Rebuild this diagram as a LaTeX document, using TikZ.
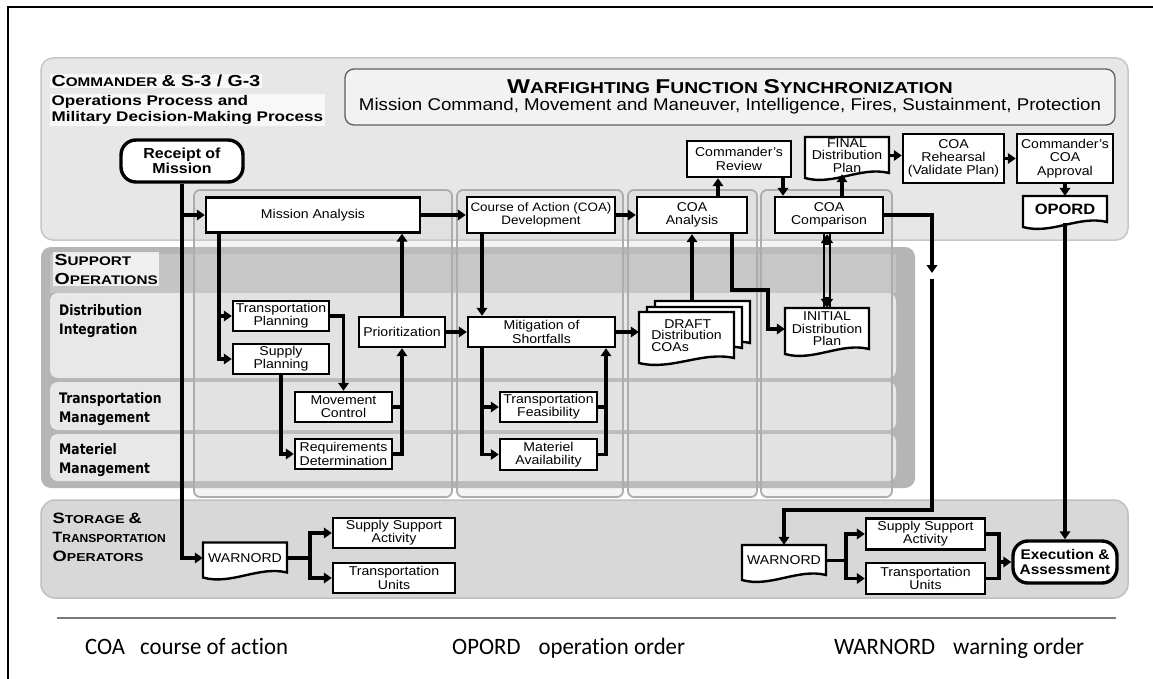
\documentclass[tikz,border=0pt]{standalone}
\usepackage{fontspec}
\usepackage{graphicx}
\setmainfont[FakeStretch=1.1]{Liberation Sans}
\newfontfamily\headfont[FakeStretch=1.22]{Liberation Sans}
\newfontfamily\rowfont[FakeStretch=0.85]{DejaVu Sans}
\newfontfamily\footfont[Ligatures=NoCommon,FakeStretch=0.97]{Carlito}
\usetikzlibrary{arrows.meta,calc}

\definecolor{topFill}{HTML}{E7E7E7}
\definecolor{topEdge}{HTML}{C6C6C6}
\definecolor{wfFill}{HTML}{F2F2F2}
\definecolor{wfEdge}{HTML}{5E5E5E}
\definecolor{supFill}{HTML}{B5B5B5}
\definecolor{supHead}{HTML}{C4C4C4}
\definecolor{rowFill}{HTML}{E8E8E8}
\definecolor{colEdge}{HTML}{ADADAD}
\definecolor{colFill}{HTML}{D2D2D2}
\definecolor{stoFill}{HTML}{D8D8D8}
\definecolor{stoEdge}{HTML}{C0C0C0}
\definecolor{sepGray}{HTML}{7A7A7A}

% larger capital inside a faked small-caps word
\newcommand{\Cap}[2]{{\fontsize{#1}{#1}\selectfont #2}}

% document symbol with a wavy lower edge: [style]{name}{cx}{cy}{w}{h}{text}
\newcommand{\docnode}[7][]{%
  \filldraw[docline] ({#3-#5/2},{#4-#6/2}) -- ({#3+#5/2},{#4-#6/2}) -- ({#3+#5/2},{#4+#6/2-5})
    .. controls ({#3+#5/6},{#4+#6/2-12}) and ({#3-#5/6},{#4+#6/2+8}) .. ({#3-#5/2},{#4+#6/2}) -- cycle;
  \node[doctext,minimum width=#5pt,minimum height={#6pt-4pt},#1] (#2) at (#3,{#4-2}) {#7};
}

\tikzset{
  box/.style={draw, line width=2.4pt, fill=white, inner sep=0pt, align=center,
    font=\fontsize{12.8}{13.2}\selectfont},
  doctext/.style={inner sep=0pt, align=center, font=\fontsize{12.8}{12.6}\selectfont},
  docline/.style={draw=black, line width=2.4pt, fill=white},
  term/.style={draw, line width=3.4pt, fill=white, rounded corners=15pt, inner sep=0pt,
    align=center, font=\bfseries\fontsize{14.5}{15}\selectfont},
  conn/.style={line width=3.2pt, -{Triangle[length=8pt,width=10.5pt]}},
  link/.style={line width=3.2pt},
  dbl/.style={line width=1.8pt},
  headtxt/.style={anchor=west, align=left, fill=white, fill opacity=0.75, text opacity=1, inner sep=1.5pt},
  rowtxt/.style={anchor=west, align=left, inner sep=0pt, font=\rowfont\bfseries\fontsize{14.5}{19}\selectfont},
  foot/.style={anchor=base west, inner sep=0pt, font=\footfont\fontsize{23.5}{23.5}\selectfont},
  lane/.style={draw=colEdge, line width=1.8pt, fill=colFill, fill opacity=0.25, rounded corners=6pt},
}

\begin{document}
\begin{tikzpicture}[x=1pt,y=-1pt]
\useasboundingbox (0,0) rectangle (1153,679);
\fill[white] (0,0) rectangle (1153,679);

% outer frame
\draw[line width=2pt] (8,679) -- (8,7) -- (1153,7);

% ---------- panels ----------
\draw[fill=topFill, draw=topEdge, line width=1.5pt, rounded corners=12pt] (41,58) rectangle (1128,240);
\draw[fill=wfFill, draw=wfEdge, line width=1.3pt, rounded corners=9pt] (345,69) rectangle (1115,125);

\fill[supFill, rounded corners=10pt] (41,247) rectangle (915,488);
\fill[supHead] (50,254) rectangle (896,293);
\fill[rowFill, rounded corners=8pt] (50,293) rectangle (896,378);
\fill[rowFill, rounded corners=8pt] (50,382) rectangle (896,430);
\fill[rowFill, rounded corners=8pt] (50,434) rectangle (896,481);

% process columns
\draw[lane] (194,190) rectangle (452,497);
\draw[lane] (457,190) rectangle (623,497);
\draw[lane] (628,190) rectangle (757,497);
\draw[lane] (761,190) rectangle (892,497);

\draw[fill=stoFill, draw=stoEdge, line width=1.5pt, rounded corners=14pt] (41,500) rectangle (1128,598);

% ---------- headings ----------
\node[inner sep=0pt, font=\headfont\bfseries\fontsize{15.8}{16}\selectfont] (wftitle) at (730,87)
  {\Cap{20}{W}ARFIGHTING \Cap{20}{F}UNCTION \Cap{20}{S}YNCHRONIZATION};
\node[inner sep=0pt, font=\fontsize{17}{17}\selectfont] (wfsub) at (730,106)
  {Mission Command, Movement and Maneuver, Intelligence, Fires, Sustainment, Protection};

\node[headtxt, font=\headfont\bfseries\fontsize{12.5}{13}\selectfont] (cmdhead) at (50,81)
  {\Cap{16}{C}OMMANDER \Cap{16}{\& S-3 / G-3}};
\node[headtxt, font=\headfont\bfseries\fontsize{14}{16.5}\selectfont] (cmdsub) at (50,110)
  {Operations Process and\\Military Decision-Making Process};

\node[headtxt, font=\headfont\bfseries\fontsize{12.5}{19}\selectfont] (suphead) at (53,269)
  {\Cap{16}{S}UPPORT\\\Cap{16}{O}PERATIONS};

\node[rowtxt] (rowDI) at (59,321) {Distribution\\Integration};
\node[rowtxt] (rowTM) at (59,409.5) {Transportation\\Management};
\node[rowtxt] (rowMM) at (59,460) {Materiel\\Management};

\node[headtxt, fill opacity=0, font=\headfont\bfseries\fontsize{11.5}{19}\selectfont] (stohead) at (51,537)
  {\Cap{15}{S}TORAGE \Cap{15}{\&}\\\scalebox{0.86}[1]{\Cap{15}{T}RANSPORTATION}\\\Cap{15}{O}PERATORS};

% ---------- command level ----------
\node[term, minimum width=122pt, minimum height=42pt] (rom) at (182,161) {Receipt of\\Mission};
\node[box, minimum width=214pt, minimum height=35pt] (ma) at (313,215) {Mission Analysis};
\node[box, minimum width=148pt, minimum height=36pt, font=\fontsize{12.2}{13.2}\selectfont] (cd) at (541,215)
  {Course of Action (COA)\\Development};
\node[box, minimum width=110pt, minimum height=36pt] (ca) at (692,215) {COA\\Analysis};
\node[box, minimum width=104pt, minimum height=36pt] (cr) at (739,159) {Commander’s\\Review};
\node[box, minimum width=108pt, minimum height=36pt] (cc) at (829,215) {COA\\Comparison};
\docnode{fin}{847}{157.5}{84}{41}{FINAL\\Distribution\\Plan}
\node[box, minimum width=101pt, minimum height=49pt] (reh) at (953.5,158.5) {COA\\Rehearsal\\(Validate Plan)};
\node[box, minimum width=96pt, minimum height=49pt] (app) at (1065,158.5) {Commander’s\\COA\\Approval};
\docnode[font=\bfseries\fontsize{15}{15}\selectfont]{opord}{1065}{211.5}{84}{31}{OPORD}

% ---------- support operations ----------
\node[box, minimum width=96pt, minimum height=30pt] (tp) at (281,316) {Transportation\\Planning};
\node[box, minimum width=96pt, minimum height=30pt] (sp) at (281,359) {Supply\\Planning};
\node[box, minimum width=86pt, minimum height=30pt] (pri) at (402,332) {Prioritization};
\node[box, minimum width=97pt, minimum height=30pt] (mc) at (343.5,407) {Movement\\Control};
\node[box, minimum width=97pt, minimum height=30pt] (rd) at (343.5,454) {Requirements\\Determination};
\node[box, minimum width=147pt, minimum height=30pt] (mit) at (541.5,332) {Mitigation of\\Shortfalls};
\node[box, minimum width=97pt, minimum height=30pt] (tf) at (548.5,407) {Transportation\\Feasibility};
\node[box, minimum width=97pt, minimum height=31pt] (mav) at (548.5,454.5) {Materiel\\Availability};

\docnode{draftC}{702.5}{324.5}{95}{47}{}
\docnode{draftB}{694.5}{330}{95}{46}{}
\docnode[align=left, font=\fontsize{12.8}{11.8}\selectfont]{draftA}{686.5}{337.5}{95}{51}{\hspace*{13pt}DRAFT\\Distribution\\COAs}
\docnode{init}{827}{331}{84}{46}{INITIAL\\Distribution\\Plan}

% ---------- storage & transportation operators ----------
\docnode{wn1}{245}{560}{84}{35}{WARNORD}
\node[box, minimum width=122pt, minimum height=30pt] (ssa1) at (394,533) {Supply Support\\Activity};
\node[box, minimum width=122pt, minimum height=30pt] (tu1) at (394,578) {Transportation\\Units};
\docnode{wn2}{784}{562.5}{84}{35}{WARNORD}
\node[box, minimum width=119pt, minimum height=31pt] (ssa2) at (925.5,534) {Supply Support\\Activity};
\node[box, minimum width=119pt, minimum height=31pt] (tu2) at (925.5,578.5) {Transportation\\Units};
\node[term, minimum width=104pt, minimum height=42pt, font=\bfseries\fontsize{14}{14.5}\selectfont] (ea) at (1065,562)
  {Execution \&\\Assessment};

% ---------- connectors ----------
\coordinate (kA) at (932,273);
\coordinate (kB) at (932,279);
\coordinate (kC) at (932,510);
\coordinate (kD) at (768,290);
\coordinate (kG) at (310,560);
\coordinate (kJ) at (846,562);
\coordinate (kH) at (999,562);
\coordinate (maL) at ([xshift=-94pt]ma.south);
\coordinate (cdL) at ([xshift=-59pt]cd.south);
\coordinate (mitR) at ([xshift=64.5pt]mit.south);

\draw[conn] (rom.south) |- (wn1.west);
\draw[conn] (rom.south |- ma.west) -- (ma.west);
\draw[conn] (ma.east) -- (cd.west);
\draw[conn] (cd.east) -- (ca.west);
\draw[conn] ([xshift=26pt]ca.north) -- ([xshift=26pt]ca.north |- cr.south);
\draw[conn] ([xshift=44pt]cr.south) -- ([xshift=44pt]cr.south |- cc.north);
\draw[conn] ([xshift=13pt]cc.north) -- ([xshift=13pt]cc.north |- fin.south);
\draw[conn] (fin.east) -- (fin.east -| reh.west);
\draw[conn] (reh.east) -- (app.west);
\draw[conn] (app.south) -- (opord.north);
\draw[conn] (opord.south) -- (ea.north);

\draw[conn] (cc.east) -| (kA);
\draw[conn] (kB) -- (kC) -| (wn2.north);

% mission analysis branch
\draw[conn] (maL) |- (sp.west);
\draw[conn] (maL |- tp.west) -- (tp.west);
\draw[conn] (tp.east) -| (mc.north);
\draw[conn] (sp.south) |- (rd.west);
\draw[link] (mc.east) -- (mc.east -| pri.south);
\draw[conn] (rd.east) -| (pri.south);
\draw[conn] (pri.north) -- (pri.north |- ma.south);
\draw[conn] (pri.east) -- (pri.east -| mit.west);

% COA development branch
\draw[conn] (cdL) -- (cdL |- mit.north);
\draw[conn] (cdL |- mit.south) |- (mav.west);
\draw[conn] (cdL |- tf.west) -- (tf.west);
\draw[link] (tf.east) -- (tf.east -| mitR);
\draw[conn] (mav.east) -| (mitR);
\draw[conn] (mit.east) -- (mit.east -| draftA.west);
\draw[conn] (draftC.north -| ca.south) -- (ca.south);

% COA analysis to initial plan
\draw[conn] ([xshift=40pt]ca.south) |- (kD) |- (init.west);

% comparison and initial plan, two-way double link
\draw[dbl] ([xshift=-2.8pt]init.north |- cc.south) -- ([xshift=-2.8pt]init.north);
\draw[dbl] ([xshift=2.8pt]init.north |- cc.south) -- ([xshift=2.8pt]init.north);
\draw[conn, -{Triangle[length=9pt,width=12pt]}] ($(init.north)+(0,-11)$) -- (init.north);
\draw[conn, -{Triangle[length=9pt,width=12pt]}] ($(init.north |- cc.south)+(0,11)$) -- (init.north |- cc.south);

% warning orders to operators
\draw[link] (wn1.east) -- (wn1.east -| kG);
\draw[conn] (wn1.east -| kG) |- (ssa1.west);
\draw[conn] (wn1.east -| kG) |- (tu1.west);
\draw[link] (wn2.east) -- (wn2.east -| kJ);
\draw[conn] (wn2.east -| kJ) |- (ssa2.west);
\draw[conn] (wn2.east -| kJ) |- (tu2.west);
\draw[link] (ssa2.east) -| (kH |- tu2.east) -- (tu2.east);
\draw[conn] (kH |- ea.west) -- (ea.west);

% ---------- legend ----------
\draw[line width=2.8pt, sepGray] (57,618) -- (1116,618);
\node[foot] (lgCOA) at (85,654) {COA\hspace{15pt}course of action};
\node[foot] (lgOPORD) at (452,654) {OPORD\hspace{18pt}operation order};
\node[foot] (lgWARN) at (834,654) {WARNORD\hspace{18pt}warning order};
\end{tikzpicture}
\end{document}
